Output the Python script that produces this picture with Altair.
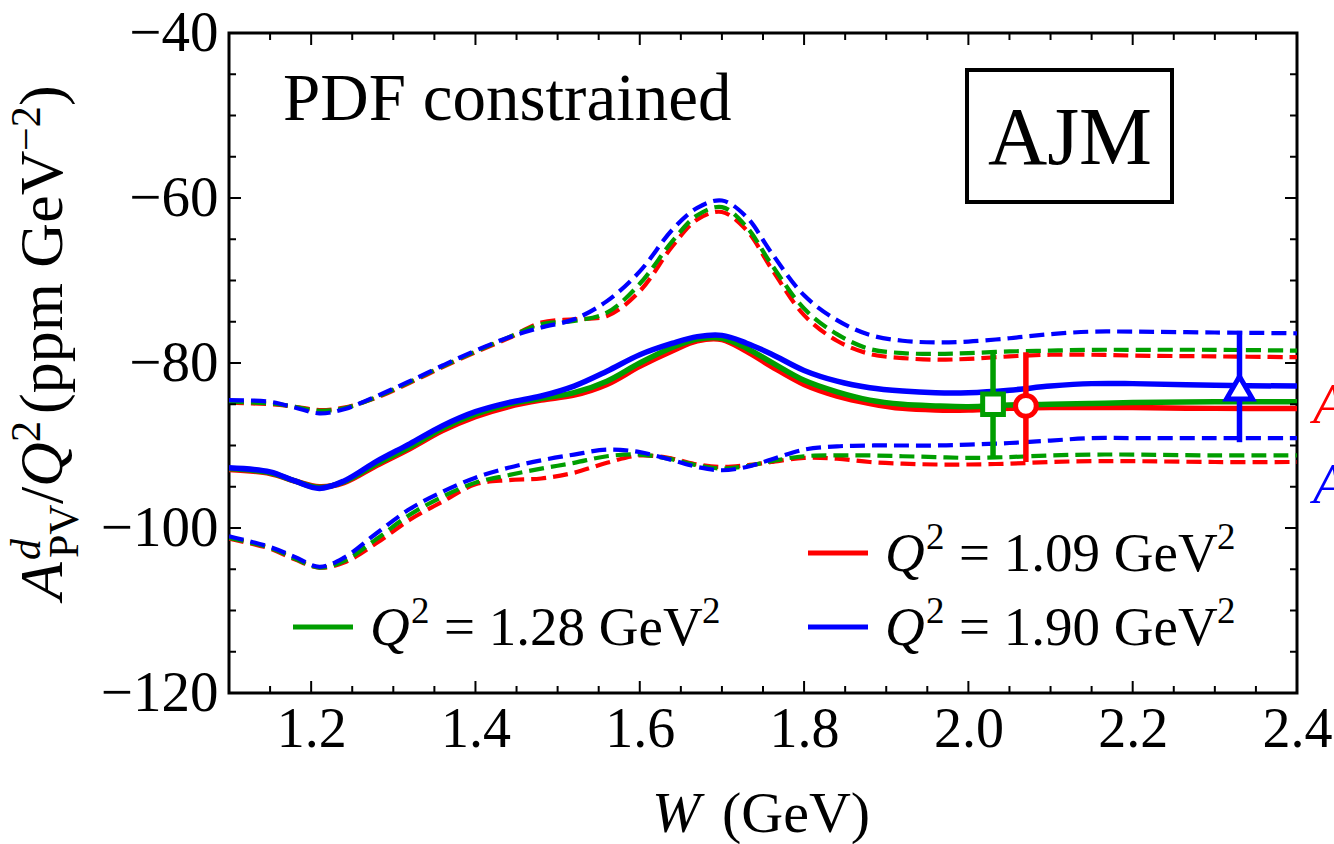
import altair as alt
import pandas as pd

SERIF = "Liberation Serif"
RED, GREEN, BLUE = "#ff0000", "#009e00", "#0000ff"

# Plot area placement inside the 1334 x 844 page
L, T = 229, 33
PW, PH = 1068, 660

# ---- curve data: W (GeV) grid and A/Q^2 (ppm GeV^-2) for each Q^2 ----
W = [1.10, 1.15, 1.18, 1.21, 1.24, 1.28, 1.32, 1.36, 1.40, 1.44,
     1.48, 1.52, 1.56, 1.60, 1.64, 1.67, 1.70, 1.73, 1.76, 1.80,
     1.84, 1.88, 1.92, 1.96, 2.00, 2.05, 2.10, 2.15, 2.20, 2.30, 2.40]

central_109 = [-92.9, -93.4, -94.3, -95.0, -94.5, -92.4, -90.4, -88.2, -86.5, -85.3,
               -84.5, -83.9, -82.6, -80.4, -78.5, -77.3, -77.15, -78.6, -80.4, -82.6,
               -84.0, -84.9, -85.5, -85.7, -85.7, -85.5, -85.4, -85.4, -85.4, -85.5, -85.5]
central_128 = [-92.8, -93.3, -94.3, -95.1, -94.4, -92.2, -90.2, -87.9, -86.2, -85.0,
               -84.3, -83.6, -82.2, -80.0, -78.1, -77.1, -77.0, -78.2, -79.9, -82.1,
               -83.5, -84.5, -85.0, -85.2, -85.3, -85.1, -85.0, -84.9, -84.8, -84.7, -84.7]
central_190 = [-92.7, -93.2, -94.3, -95.2, -94.3, -91.9, -89.8, -87.6, -85.9, -84.8,
               -84.0, -82.8, -81.0, -79.0, -77.6, -76.8, -76.65, -77.6, -78.9, -80.9,
               -82.2, -83.0, -83.4, -83.6, -83.6, -83.3, -82.8, -82.5, -82.5, -82.7, -82.8]

upper_109 = [-84.8, -85.0, -85.3, -85.7, -85.4, -84.2, -82.4, -80.5, -78.7, -77.0,
             -75.1, -74.7, -74.3, -71.3, -65.8, -62.6, -61.7, -63.9, -68.5, -74.2,
             -77.3, -78.9, -79.4, -79.6, -79.5, -79.2, -79.0, -79.0, -79.1, -79.2, -79.3]
upper_128 = [-84.7, -84.9, -85.3, -85.8, -85.5, -84.1, -82.3, -80.4, -78.6, -76.9,
             -75.3, -74.9, -73.9, -70.4, -65.2, -62.1, -61.1, -63.5, -68.0, -73.4,
             -76.5, -78.3, -78.8, -78.9, -78.8, -78.6, -78.5, -78.4, -78.4, -78.4, -78.5]
upper_190 = [-84.5, -84.7, -85.4, -86.1, -85.6, -84.0, -82.2, -80.3, -78.5, -76.9,
             -75.7, -74.7, -72.5, -68.9, -63.8, -61.2, -60.3, -62.3, -66.6, -71.8,
             -74.8, -76.6, -77.3, -77.5, -77.4, -77.0, -76.5, -76.2, -76.2, -76.3, -76.4]

lower_109 = [-101.3, -102.5, -103.8, -104.8, -104.2, -101.8, -99.0, -96.8, -94.7, -94.2,
             -94.0, -93.3, -92.1, -91.2, -91.6, -92.3, -92.6, -92.4, -92.0, -91.5,
             -91.6, -92.0, -92.2, -92.3, -92.3, -92.2, -92.0, -91.9, -91.9, -92.0, -92.0]
lower_128 = [-101.2, -102.4, -103.7, -104.8, -104.0, -101.3, -98.4, -96.2, -94.5, -93.6,
             -92.8, -92.1, -91.3, -91.1, -91.7, -92.4, -92.8, -92.5, -91.9, -91.3,
             -91.2, -91.2, -91.3, -91.4, -91.5, -91.4, -91.2, -91.1, -91.1, -91.2, -91.2]
lower_190 = [-101.0, -102.3, -103.5, -104.7, -103.6, -100.6, -97.7, -95.6, -93.9, -92.7,
             -91.8, -91.1, -90.5, -90.8, -91.8, -92.6, -93.0, -92.6, -91.7, -90.5,
             -90.1, -90.0, -90.0, -90.0, -89.9, -89.7, -89.4, -89.1, -89.1, -89.1, -89.1]

# ---- data points with error bars ----
pt_series = ["1.28", "1.09", "1.90"]
pt_W = [2.03, 2.07, 2.33]
pt_val = [-85.0, -85.2, -83.0]
pt_lo = [-91.6, -92.0, -89.6]
pt_hi = [-78.5, -78.7, -76.1]
pt_shape = ["square", "circle", "triangle-up"]
pt_size = [430, 430, 680]

# ---- axis ticks ----
x_major = [1.2, 1.4, 1.6, 1.8, 2.0, 2.2]
x_minor = [round(1.1 + 0.05 * i, 2) for i in range(1, 26) if round(1.1 + 0.05 * i, 2) not in x_major]
x_labels = [1.2, 1.4, 1.6, 1.8, 2.0, 2.2, 2.4]
y_major = [-100, -80, -60]
y_minor = [-115, -110, -105, -95, -90, -85, -75, -70, -65, -55, -50, -45]
y_labels = [-120, -100, -80, -60, -40]

colors = {"1.09": RED, "1.28": GREEN, "1.90": BLUE}
curves = {
    "1.09": (central_109, upper_109, lower_109),
    "1.28": (central_128, upper_128, lower_128),
    "1.90": (central_190, upper_190, lower_190),
}

xs = alt.Scale(domain=[1.1, 2.4], nice=False, zero=False)
ys = alt.Scale(domain=[-120, -40], nice=False, zero=False)
xaxis = alt.Axis(title=None, values=x_labels, format=".1f", ticks=False, tickSize=0,
                 domain=False, grid=False, labelFont=SERIF, labelFontSize=56,
                 labelColor="black", labelPadding=9, labelFlush=False)
yaxis = alt.Axis(title=None, values=y_labels, format="d", ticks=False, tickSize=0,
                 domain=False, grid=False, labelFont=SERIF, labelFontSize=57,
                 labelColor="black", labelPadding=11, labelFlush=False)


def X(field):
    return alt.X(field, type="quantitative", scale=xs, axis=xaxis)


def Y(field):
    return alt.Y(field, type="quantitative", scale=ys, axis=yaxis)


layers = []

# dashed bands first, then the central curves
for kind in ["upper", "lower", "central"]:
    for q in ["1.09", "1.28", "1.90"]:
        c, u, lo = curves[q]
        vals = {"central": c, "upper": u, "lower": lo}[kind]
        df = pd.DataFrame({"W": W, "A": vals})
        if kind == "central":
            mk = alt.Chart(df).mark_line(color=colors[q], strokeWidth=5.5,
                                         interpolate="catmull-rom", clip=True)
        else:
            mk = alt.Chart(df).mark_line(color=colors[q], strokeWidth=4.2,
                                         strokeDash=[15, 7], interpolate="catmull-rom", clip=True)
        layers.append(mk.encode(x=X("W"), y=Y("A")))

# error bars and open markers
for i, q in enumerate(pt_series):
    dfp = pd.DataFrame({"W": [pt_W[i]], "A": [pt_val[i]], "lo": [pt_lo[i]], "hi": [pt_hi[i]]})
    layers.append(alt.Chart(dfp).mark_rule(color=colors[q], strokeWidth=5.5).encode(
        x=X("W"), y=Y("lo"), y2="hi"))
    layers.append(alt.Chart(dfp).mark_point(shape=pt_shape[i], size=pt_size[i], filled=True,
                                            fill="white", stroke=colors[q], strokeWidth=5,
                                            opacity=1).encode(x=X("W"), y=Y("A")))

# inward frame ticks
def xticks(vals, length):
    d = pd.DataFrame({"v": vals})
    bottom = alt.Chart(d).mark_rule(color="black", strokeWidth=2).encode(
        x=X("v"), y=alt.value(PH), y2=alt.value(PH - length))
    top = alt.Chart(d).mark_rule(color="black", strokeWidth=2).encode(
        x=X("v"), y=alt.value(0), y2=alt.value(length))
    return [bottom, top]


def yticks(vals, length):
    d = pd.DataFrame({"v": vals})
    left = alt.Chart(d).mark_rule(color="black", strokeWidth=2).encode(
        y=Y("v"), x=alt.value(0), x2=alt.value(length))
    right = alt.Chart(d).mark_rule(color="black", strokeWidth=2).encode(
        y=Y("v"), x=alt.value(PW), x2=alt.value(PW - length))
    return [left, right]


layers += xticks(x_major, 12) + xticks(x_minor, 7) + yticks(y_major, 12) + yticks(y_minor, 7)

one = alt.Data(values=[{"k": 0}])


def page_text(text, px, py, size, color="black", italic=False, angle=0,
              align="left", baseline="alphabetic"):
    kw = dict(text=text, font=SERIF, fontSize=size, color=color, align=align, baseline=baseline)
    if italic:
        kw["fontStyle"] = "italic"
    if angle:
        kw["angle"] = angle
    return alt.Chart(one).mark_text(**kw).encode(x=alt.value(px - L), y=alt.value(py - T))


def page_rule(x1, x2, y, color, width=5):
    return alt.Chart(one).mark_rule(color=color, strokeWidth=width).encode(
        x=alt.value(x1 - L), x2=alt.value(x2 - L), y=alt.value(y - T))


# legend entries
def legend_entry(x_line, y_line, label, color):
    base = y_line + 18
    tx = x_line + 77
    return [
        page_rule(x_line, x_line + 60, y_line, color),
        page_text("Q", tx, base, 55, italic=True),
        page_text("2", tx + 41, base - 22, 37),
        page_text("= " + label + " GeV", tx + 74, base, 55),
        page_text("2", tx + 332, base - 22, 37),
    ]


layers += legend_entry(808, 553, "1.09", RED)
layers += legend_entry(293, 627, "1.28", GREEN)
layers += legend_entry(808, 627, "1.90", BLUE)

# panel annotations
layers.append(page_text("PDF constrained", 283, 120, 67))
layers.append(alt.Chart(one).mark_rect(fill="white", stroke="black", strokeWidth=4).encode(
    x=alt.value(967 - L), x2=alt.value(1172 - L), y=alt.value(70 - T), y2=alt.value(202 - T)))
layers.append(page_text("AJM", 1070, 164, 82, align="center"))

# labels beyond the right edge of the frame
layers.append(page_text("A", 1313, 423, 56, color=RED, italic=True))
layers.append(page_text("A", 1313, 503, 56, color=BLUE, italic=True))

# x-axis title
layers.append(page_text("W", 652, 832, 58, italic=True))
layers.append(page_text("(GeV)", 722, 832, 58))

# y-axis title, reading upward
layers += [
    page_text("A", 62, 600, 62, italic=True, angle=270),
    page_text("d", 40, 560, 42, italic=True, angle=270),
    page_text("PV", 78, 558, 42, angle=270),
    page_text("/", 62, 504, 62, angle=270),
    page_text("Q", 62, 487, 62, italic=True, angle=270),
    page_text("2", 40, 442, 42, angle=270),
    page_text("(ppm GeV", 62, 414, 62, angle=270),
    page_text("\u22122", 40, 151, 42, angle=270),
    page_text(")", 62, 106, 62, angle=270),
]

chart = alt.layer(*layers).properties(
    width=PW, height=PH,
    autosize=alt.AutoSizeParams(type="none"),
    padding={"left": L, "top": T, "right": 1334 - L - PW, "bottom": 844 - T - PH},
    background="white",
).configure_view(stroke="black", strokeWidth=3)

chart.save("out.html", embed_options={"renderer": "svg", "actions": False})
